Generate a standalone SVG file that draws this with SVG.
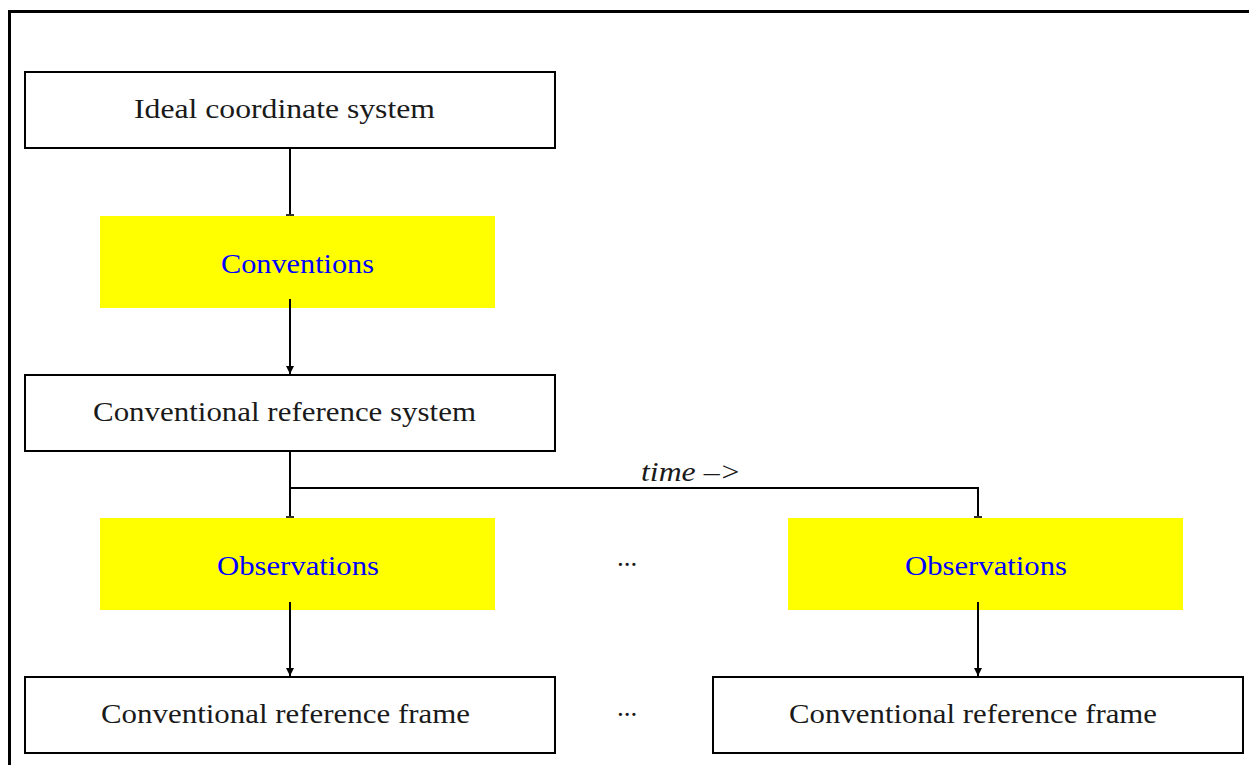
<svg xmlns="http://www.w3.org/2000/svg" width="1249" height="765" viewBox="0 0 1249 765">
  <style>
    .box { fill: #ffffff; stroke: #000000; stroke-width: 2; }
    .note { fill: #ffff00; stroke: none; }
    .lbl { font-family: "Liberation Serif", "DejaVu Serif", serif; font-size: 27px; text-anchor: middle; fill: #1a1a1a; }
    .blue { fill: #0000ff; }
    .wire { fill: none; stroke: #000000; stroke-width: 2; }
  </style>
  <defs>
    <marker id="arrow" viewBox="0 0 8 8" refX="8" refY="4" markerWidth="8" markerHeight="8" markerUnits="userSpaceOnUse" orient="auto">
      <path d="M0,0 L8,4 L0,8 Z" fill="#000000"/>
    </marker>
    <marker id="bar" viewBox="0 0 2 8" refX="1" refY="4" markerWidth="2" markerHeight="8" markerUnits="userSpaceOnUse" orient="auto">
      <rect x="0" y="0" width="2" height="8" fill="#333333"/>
    </marker>
  </defs>

  <rect width="1249" height="765" fill="#ffffff"/>
  <!-- outer frame (extends past the right and bottom edges) -->
  <path d="M9.5,765 V11.5 H1249" fill="none" stroke="#000000" stroke-width="3"/>

  <g id="ideal">
    <rect class="box" x="25" y="72" width="530" height="76"/>
    <text class="lbl" x="284.5" y="118" textLength="301" lengthAdjust="spacingAndGlyphs">Ideal coordinate system</text>
  </g>

  <g id="conventions">
    <rect class="note" x="100" y="216" width="395" height="92"/>
    <text class="lbl blue" x="297.5" y="273" textLength="153" lengthAdjust="spacingAndGlyphs">Conventions</text>
  </g>

  <g id="ref-system">
    <rect class="box" x="25" y="375" width="530" height="76"/>
    <text class="lbl" x="284.5" y="421" textLength="383" lengthAdjust="spacingAndGlyphs">Conventional reference system</text>
  </g>

  <g id="obs-1">
    <rect class="note" x="100" y="518" width="395" height="92"/>
    <text class="lbl blue" x="298" y="575" textLength="162" lengthAdjust="spacingAndGlyphs">Observations</text>
  </g>

  <g id="obs-gap">
    <text class="lbl" x="627" y="566">...</text>
  </g>

  <g id="obs-2">
    <rect class="note" x="788" y="518" width="395" height="92"/>
    <text class="lbl blue" x="986" y="575" textLength="162" lengthAdjust="spacingAndGlyphs">Observations</text>
  </g>

  <g id="frame-1">
    <rect class="box" x="25" y="677" width="530" height="76"/>
    <text class="lbl" x="285.5" y="723" textLength="369" lengthAdjust="spacingAndGlyphs">Conventional reference frame</text>
  </g>

  <g id="frame-gap">
    <text class="lbl" x="627" y="716">...</text>
  </g>

  <g id="frame-2">
    <rect class="box" x="713" y="677" width="530" height="76"/>
    <text class="lbl" x="973" y="723" textLength="368" lengthAdjust="spacingAndGlyphs">Conventional reference frame</text>
  </g>

  <!-- connectors drawn last so their stubs show over the yellow boxes -->
  <g id="connectors">
    <line class="wire" x1="290" y1="149" x2="290" y2="215" marker-end="url(#bar)"/>
    <line class="wire" x1="290" y1="299" x2="290" y2="374" marker-end="url(#arrow)"/>
    <line class="wire" x1="290" y1="452" x2="290" y2="517" marker-end="url(#bar)"/>
    <path class="wire" d="M290,488 H978 V517" marker-end="url(#bar)"/>
    <line class="wire" x1="290" y1="602" x2="290" y2="676" marker-end="url(#arrow)"/>
    <line class="wire" x1="978" y1="602" x2="978" y2="676" marker-end="url(#arrow)"/>
    <text class="lbl" x="691" y="481" font-style="italic" textLength="100" lengthAdjust="spacingAndGlyphs">time –&gt;</text>
  </g>
</svg>
